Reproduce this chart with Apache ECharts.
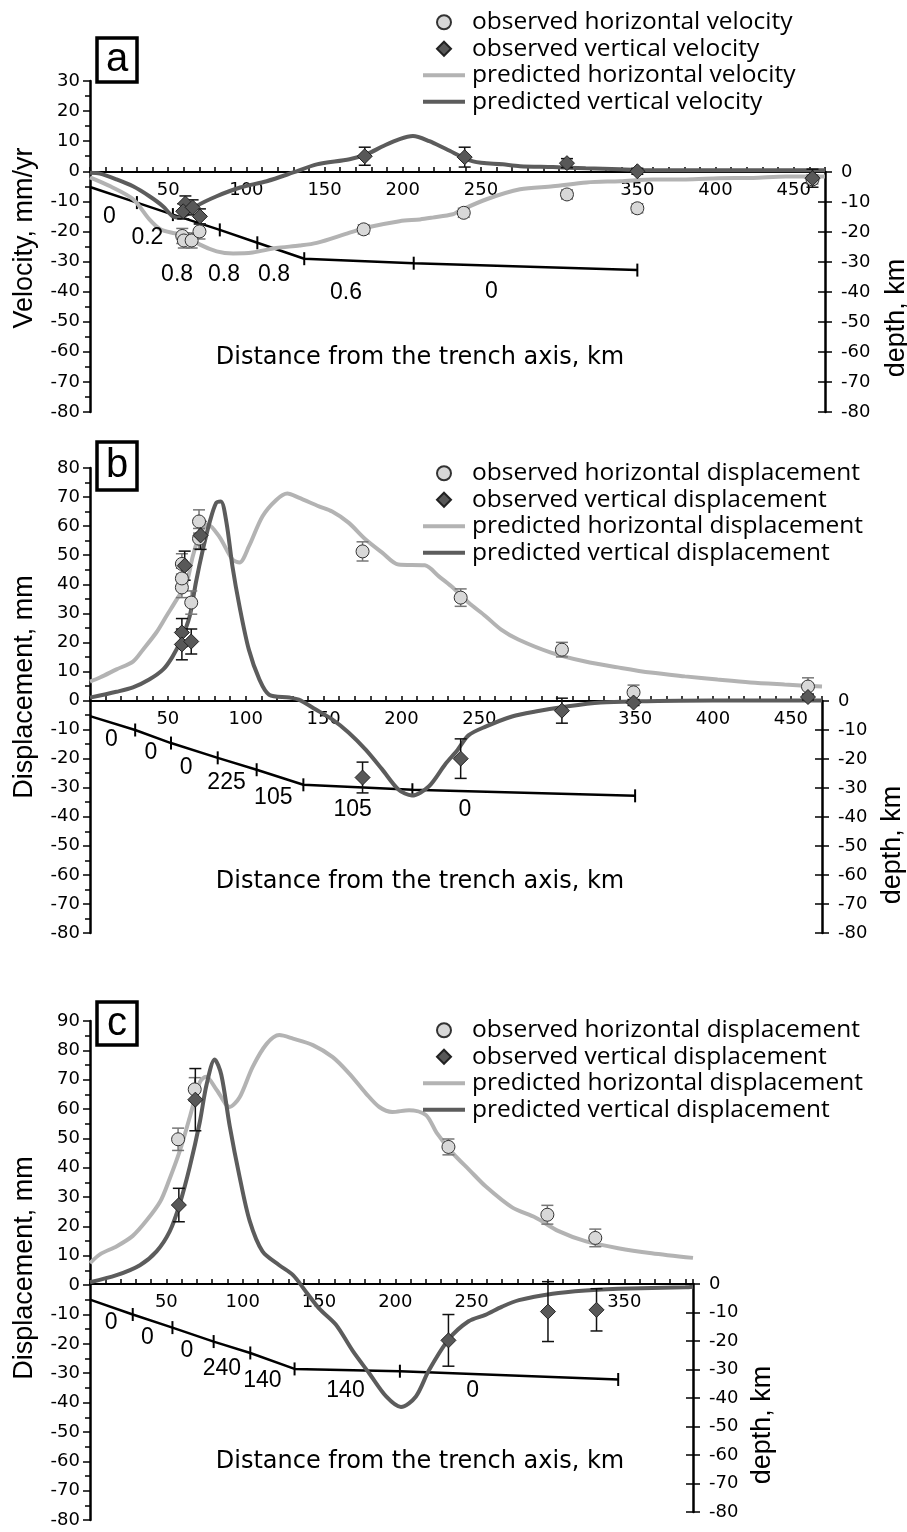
<!DOCTYPE html>
<html>
<head>
<meta charset="UTF-8">
<style>
  html, body { margin: 0; padding: 0; background: #fff; }
  #chart { width: 907px; height: 1532px; }
</style>
<script src="https://cdn.jsdelivr.net/npm/echarts/dist/echarts.min.js"></script>
</head>
<body>
<div id="chart"></div>
<script>
// ---- panel a : velocities ----
var aPredHx = [0, 13, 27.6, 38, 45, 53, 60, 70, 81, 91.5, 104, 119, 134, 145, 166, 177, 198, 211, 219, 232, 236, 253.6, 275, 296, 317.6, 339, 360, 381, 402, 424, 445, 470];
var aPredHy = [-2, -5, -9.3, -16, -19.3, -20.5, -21, -24.3, -26.6, -27.3, -27, -25.5, -24.7, -23.8, -20.4, -18.7, -16.6, -16, -15.4, -14.3, -13.2, -9.3, -6, -5, -3.7, -3.3, -2.7, -2.7, -2.3, -2.2, -1.7, -1.7];
var aPredVx = [0, 6.4, 17, 27.5, 38, 46.6, 53, 58, 68, 81, 96, 113, 130, 145, 166, 177, 187.6, 198, 206.5, 217, 228, 245, 264, 275, 296, 317, 339, 360, 400, 470];
var aPredVy = [-0.5, -0.8, -2.7, -5, -8.3, -11.6, -15, -15.5, -11.6, -8.3, -5.4, -3.3, -0.4, 2.3, 4, 5.7, 8.4, 10.7, 11.7, 10, 7.3, 3.3, 2.3, 1.7, 1.4, 1, 0.7, 0.3, 0.3, 0.3];
var aObsHx = [59, 60, 65, 70, 175, 239, 305, 350, 462];
var aObsHy = [-21.5, -23, -23, -20, -19.3, -13.8, -7.7, -12.3, -2.7];
var aObsHerr = [2.5, 2.5, 2.5, 2.5, 1.5, 1.5, 1.5, 1.5, 1.5];
var aObsVx = [61, 59.6, 65.6, 70.3, 175.7, 239.6, 305, 350, 462];
var aObsVy = [-10.7, -13.3, -12, -15, 5, 4.7, 2.7, 0, -2.3];
var aObsVerr = [2.5, 2.5, 2.5, 2.5, 3, 3.3, 1.5, 1, 3];
var aDepthX = [0, 30, 53, 83, 107, 137, 207, 350];
var aDepthY = [-5, -10.2, -14.2, -19.3, -23.6, -28.9, -30.4, -32.7];
var aRateX = [12.8, 37, 56, 86, 118, 164, 257];
var aRateY = [-15, -22, -34.3, -34.3, -34.3, -40.3, -40];
var aRateText = ['0', '0.2', '0.8', '0.8', '0.8', '0.6', '0'];

// ---- panel b : displacements ----
var bPredHx = [0, 6.4, 17, 27.6, 34, 42.6, 49, 55.6, 62, 66, 70, 75.6, 83, 91.5, 96, 102, 110.7, 119.6, 126.7, 134, 147, 155.5, 166, 177, 187.6, 198, 215, 224, 232, 243, 254, 264, 275, 296, 318, 339, 360, 382, 403, 424, 446, 470];
var bPredHy = [6.5, 7.9, 10.7, 13.4, 17.5, 23.4, 29, 34.7, 40.6, 49.6, 56.4, 60.6, 56.4, 48.5, 47.5, 53, 63.3, 69, 71.2, 69.8, 66.8, 65, 61.2, 55.4, 50.9, 46.8, 46.5, 42.7, 39.3, 33.7, 29, 24.4, 21, 16.5, 13.4, 11.4, 9.6, 8.3, 7.2, 6.2, 5.5, 4.8];
var bPredVx = [0, 17, 27.6, 38, 47, 53, 58.6, 64, 68, 72.5, 76.8, 81, 84, 87.6, 91.5, 96, 102, 108.8, 115, 128, 134, 145, 155.5, 166, 177, 187.6, 198, 206.7, 217.5, 228, 236, 243, 254, 271, 286, 307, 328, 350, 400, 470];
var bPredVy = [1, 3, 4.5, 7.2, 10.7, 15.1, 21, 29, 40.6, 52, 61.3, 68, 68.5, 61.3, 46, 32.4, 17.5, 7.2, 2, 1, 0.3, -3.1, -6.5, -11, -16.9, -23.7, -30.6, -32.7, -29.6, -22, -17, -12, -9, -5.5, -3.8, -2, -0.7, -0.3, 0, 0];
var bObsHx = [59, 59, 59, 65, 70, 70, 175, 238, 303, 349, 461];
var bObsHy = [38.9, 42, 47, 33.7, 61.6, 55.7, 51.3, 35.4, 17.5, 2.8, 4.8];
var bObsHerr = [3.5, 3.5, 3.5, 4, 4, 3.5, 3.3, 3, 2.5, 2.5, 3];
var bObsVx = [60.8, 59, 59, 65, 71, 175, 238, 303, 349, 461];
var bObsVy = [46.4, 23.4, 19.3, 20.3, 56.8, -26.5, -20, -3.5, -0.7, 1.2];
var bObsVerr = [5, 4.8, 5.3, 4.3, 4.8, 5.3, 6.8, 4.3, 1, 1];
var bDepthX = [0, 29, 52, 82, 107, 137, 207, 350];
var bDepthY = [-5.2, -10, -14.5, -19.6, -23.7, -28.9, -30.6, -32.7];
var bRateX = [14, 39.5, 62, 88, 118, 169, 241];
var bRateY = [-13.4, -18, -23, -28.2, -33.4, -37.5, -37.5];
var bRateText = ['0', '0', '0', '225', '105', '105', '0'];

// ---- panel c : displacements ----
var cPredHx = [0, 6.5, 17.6, 28, 37, 46, 52, 59, 65.4, 72, 76, 83, 91.5, 98, 106.5, 115.7, 124, 133, 146, 159, 170, 181, 189.5, 198, 209, 220, 227, 237.6, 248.4, 259.5, 276.5, 292, 307, 325, 346, 368, 395];
var cPredHy = [7.5, 10.5, 13.3, 16.8, 22, 28.5, 36, 46, 57.3, 69.2, 71, 66.5, 60.7, 64, 74.3, 82.2, 85.2, 84, 81.8, 77.7, 72, 65.2, 60.7, 59, 59.6, 58, 52, 45, 39.3, 33.5, 26.5, 23, 18.4, 14.9, 12.6, 10.9, 9.3];
var cPredVx = [0, 17.4, 32.7, 43.6, 52.3, 58.8, 65.4, 71.9, 76.3, 81.7, 86, 91.5, 98, 104.6, 113, 124, 133, 141.6, 150, 161, 172, 183, 194, 203.7, 213.5, 222, 235, 248, 259, 270, 281, 303, 324.6, 346, 390, 395];
var cPredVy = [1, 3.4, 6.8, 11.5, 18.4, 27.7, 40.4, 55.5, 68.2, 76.9, 71.7, 54.3, 36.9, 21.9, 11.5, 6.8, 3.4, -2.3, -7.9, -13.4, -22.3, -30.1, -37.9, -41.5, -37.9, -29, -18.4, -12.3, -10.1, -7.3, -5.1, -2.9, -1.8, -1.2, -0.7, -0.5];
var cObsHx = [57.7, 68.6, 234.8, 299.6, 331];
var cObsHy = [49.7, 66.7, 47.1, 24, 16.1];
var cObsHerr = [3.8, 4, 2.7, 3.2, 3];
var cObsVx = [58.2, 69, 234.8, 300, 331.8];
var cObsVy = [27.3, 63.2, -18.8, -9, -8.4];
var cObsVerr = [5.7, 10.6, 8.8, 10.2, 7.2];
var cDepthX = [0, 28, 54, 81, 105, 134, 203, 346];
var cDepthY = [-5.5, -10.7, -15.3, -20.2, -24.2, -29.8, -30.6, -33.5];
var cRateX = [14.2, 38, 63.8, 86.7, 113.3, 167.7, 251];
var cRateY = [-13.8, -19, -23.7, -30, -34, -37.6, -37.6];
var cRateText = ['0', '0', '0', '240', '140', '140', '0'];

var velNames = ['observed horizontal velocity', 'observed vertical velocity', 'predicted horizontal velocity', 'predicted vertical velocity'];
var dispNames = ['observed horizontal displacement', 'observed vertical displacement', 'predicted horizontal displacement', 'predicted vertical displacement'];

var LIGHT = '#b3b3b3', DARK = '#5c5c5c';
var tickFont = 'DejaVu Sans';
var ICON_DIAMOND = 'path://M7,0L14,7L7,14L0,7Z';
var ICON_BAR = 'path://M0,0L42,0L42,4L0,4Z';

function zip(xs, ys) { return xs.map(function (x, i) { return [x, ys[i]]; }); }
function errData(xs, ys, es) { return xs.map(function (x, i) { return [x, ys[i] - es[i], ys[i] + es[i]]; }); }

function errRender(color) {
  return function (params, api) {
    var x = api.value(0), lo = api.value(1), hi = api.value(2);
    var t = api.coord([x, hi]), b = api.coord([x, lo]);
    var st = { stroke: color, lineWidth: 1.5 };
    return { type: 'group', children: [
      { type: 'line', shape: { x1: t[0], y1: t[1], x2: b[0], y2: b[1] }, style: st },
      { type: 'line', shape: { x1: t[0] - 6, y1: t[1], x2: t[0] + 6, y2: t[1] }, style: st },
      { type: 'line', shape: { x1: b[0] - 6, y1: b[1], x2: b[0] + 6, y2: b[1] }, style: st }
    ] };
  };
}

var grid = [], xAxis = [], yAxis = [], series = [], legend = [], graphic = [];

function addPanel(p) {
  var gi = grid.length, xi = xAxis.length, yi = yAxis.length;
  grid.push({ left: 90, top: p.top, width: p.width, height: p.height, outerBoundsMode: 'none', containLabel: false });
  grid.push({ left: 90, top: p.dTop, width: p.width, height: p.dHeight, outerBoundsMode: 'none', containLabel: false });
  // data x axis (hidden), the visible distance axis sits on top of the depth grid = zero line
  xAxis.push({ gridIndex: gi, type: 'value', min: 0, max: p.xMax, show: false });
  xAxis.push({
    gridIndex: gi + 1, type: 'value', min: 0, max: p.xMax, interval: 50, position: 'top',
    axisLine: { show: true, onZero: false, lineStyle: { color: '#000', width: 2 } },
    axisTick: { show: true, inside: false, length: 5, lineStyle: { color: '#000', width: 1.5 } },
    minorTick: { show: true, splitNumber: 5, length: 5, lineStyle: { color: '#000', width: 1.5 } },
    axisLabel: { inside: true, margin: 9, color: '#000', fontFamily: tickFont, fontSize: 18, showMinLabel: true, showMaxLabel: true,
      formatter: function (v) { return (v % 50 === 0 && v !== 0 && v !== 300) ? String(v) : ''; } },
    splitLine: { show: false }, minorSplitLine: { show: false }
  });
  yAxis.push({
    gridIndex: gi, type: 'value', min: p.yMin, max: p.yMax, interval: 10, position: 'left',
    axisLine: { show: true, onZero: false, lineStyle: { color: '#000', width: 2.5 } },
    axisTick: { show: true, length: 7, lineStyle: { color: '#000', width: 1.5 } },
    minorTick: { show: true, splitNumber: 2, length: 5, lineStyle: { color: '#000', width: 1.5 } },
    axisLabel: { margin: 10, color: '#000', fontFamily: tickFont, fontSize: 18, showMinLabel: true, showMaxLabel: true },
    splitLine: { show: false }, minorSplitLine: { show: false }
  });
  yAxis.push({
    gridIndex: gi + 1, type: 'value', min: -80, max: 0, interval: 10, position: 'right',
    axisLine: { show: true, onZero: false, lineStyle: { color: '#000', width: 2.5 } },
    axisTick: { show: true, length: 7, lineStyle: { color: '#000', width: 1.5 } },
    axisLabel: { margin: 16, color: '#000', fontFamily: tickFont, fontSize: 18, showMinLabel: true, showMaxLabel: true },
    splitLine: { show: false }
  });
  yAxis.push({
    gridIndex: gi + 1, type: 'value', min: -80, max: 0, interval: 10, position: 'right',
    axisLine: { show: false, onZero: false },
    axisTick: { show: true, inside: true, length: 7, lineStyle: { color: '#000', width: 1.5 } },
    axisLabel: { show: false }, splitLine: { show: false }
  });

  var n = p.names;
  series.push({ name: n[2], type: 'line', xAxisIndex: xi, yAxisIndex: yi, data: zip(p.predHx, p.predHy),
    symbol: 'none', smooth: 0.3, lineStyle: { color: LIGHT, width: 4 }, itemStyle: { color: LIGHT }, z: 3 });
  series.push({ name: n[3], type: 'line', xAxisIndex: xi, yAxisIndex: yi, data: zip(p.predVx, p.predVy),
    symbol: 'none', smooth: 0.3, lineStyle: { color: DARK, width: 4 }, itemStyle: { color: DARK }, z: 4 });
  series.push({ name: 'errH' + gi, type: 'custom', xAxisIndex: xi, yAxisIndex: yi, data: errData(p.obsHx, p.obsHy, p.obsHerr),
    encode: { x: 0, y: [1, 2] }, renderItem: errRender('#777'), z: 5 });
  series.push({ name: 'errV' + gi, type: 'custom', xAxisIndex: xi, yAxisIndex: yi, data: errData(p.obsVx, p.obsVy, p.obsVerr),
    encode: { x: 0, y: [1, 2] }, renderItem: errRender('#111'), z: 5 });
  series.push({ name: n[0], type: 'scatter', xAxisIndex: xi, yAxisIndex: yi, data: zip(p.obsHx, p.obsHy),
    symbol: 'circle', symbolSize: 13, itemStyle: { color: '#d8d8d8', borderColor: '#333', borderWidth: 1, opacity: 1 }, z: 6 });
  series.push({ name: n[1], type: 'scatter', xAxisIndex: xi, yAxisIndex: yi, data: zip(p.obsVx, p.obsVy),
    symbol: 'diamond', symbolSize: 15, itemStyle: { color: '#585858', borderColor: '#222', borderWidth: 1, opacity: 1 }, z: 7 });
  var depthData = zip(p.depthX, p.depthY).map(function (d, i) {
    return i === 0 ? { value: d, symbol: 'none' } : { value: d };
  });
  series.push({ name: 'depth' + gi, type: 'line', xAxisIndex: xi + 1, yAxisIndex: yi + 1, data: depthData,
    symbol: 'rect', symbolSize: [2, 13], showAllSymbol: true, itemStyle: { color: '#000' },
    lineStyle: { color: '#000', width: 2.5 }, z: 2 });
  series.push({ name: 'rate' + gi, type: 'scatter', xAxisIndex: xi + 1, yAxisIndex: yi + 1,
    data: p.rateX.map(function (x, i) { return [x, p.rateY[i], p.rateText[i]]; }),
    symbolSize: 1, itemStyle: { color: 'rgba(0,0,0,0)' },
    label: { show: true, position: [0, 0], align: 'center', verticalAlign: 'middle', formatter: function (q) { return q.value[2]; },
      color: '#000', opacity: 1, textBorderWidth: 0, fontFamily: 'Liberation Sans', fontSize: 23 }, z: 8 });

  legend.push({
    data: [
      { name: n[0], icon: 'circle' },
      { name: n[1], icon: ICON_DIAMOND },
      { name: n[2], icon: ICON_BAR },
      { name: n[3], icon: ICON_BAR }
    ],
    orient: 'vertical', left: 423, top: p.legTop, padding: 0, itemWidth: 42, itemHeight: 14, itemGap: 0,
    selectedMode: false, symbolKeepAspect: true,
    textStyle: { color: '#000', fontFamily: 'Open Sans', fontSize: 24.5, lineHeight: 26.5, padding: [0, 0, 0, 2] }
  });

  graphic.push({ type: 'rect', shape: { x: 97, y: p.boxY, width: 40, height: p.boxH }, style: { fill: '#fff', stroke: '#000', lineWidth: 3.5 } });
  graphic.push({ type: 'text', x: 117, y: p.boxY + p.boxH / 2, style: { text: p.letter, font: '40px "Liberation Sans"', fill: '#000',
    align: 'center', verticalAlign: 'middle', textAlign: 'center', textVerticalAlign: 'middle' } });
  graphic.push({ type: 'text', x: 25, y: p.yTitleY, rotation: Math.PI / 2, style: { text: p.yTitle, font: '27px "Liberation Sans"', fill: '#000',
    align: 'center', verticalAlign: 'middle', textAlign: 'center', textVerticalAlign: 'middle' } });
  graphic.push({ type: 'text', x: 420, y: p.xTitleY, style: { text: 'Distance from the trench axis, km', font: '24px "DejaVu Sans"', fill: '#000',
    align: 'center', verticalAlign: 'middle', textAlign: 'center', textVerticalAlign: 'middle' } });
  graphic.push({ type: 'text', x: p.dTitleX, y: p.dTitleY, rotation: Math.PI / 2, style: { text: 'depth, km', font: '27px "Liberation Sans"', fill: '#000',
    align: 'center', verticalAlign: 'middle', textAlign: 'center', textVerticalAlign: 'middle' } });
}

addPanel({ top: 81, height: 331, width: 735, dTop: 172, dHeight: 240, xMax: 470, yMin: -80, yMax: 30,
  predHx: aPredHx, predHy: aPredHy, predVx: aPredVx, predVy: aPredVy,
  obsHx: aObsHx, obsHy: aObsHy, obsHerr: aObsHerr, obsVx: aObsVx, obsVy: aObsVy, obsVerr: aObsVerr,
  depthX: aDepthX, depthY: aDepthY, rateX: aRateX, rateY: aRateY, rateText: aRateText,
  names: velNames, legTop: 9, letter: 'a', boxY: 38, boxH: 44,
  yTitle: 'Velocity, mm/yr', yTitleY: 238, xTitleY: 358, dTitleX: 897, dTitleY: 318 });
addPanel({ top: 468, height: 465, width: 732, dTop: 701, dHeight: 232, xMax: 470, yMin: -80, yMax: 80,
  predHx: bPredHx, predHy: bPredHy, predVx: bPredVx, predVy: bPredVy,
  obsHx: bObsHx, obsHy: bObsHy, obsHerr: bObsHerr, obsVx: bObsVx, obsVy: bObsVy, obsVerr: bObsVerr,
  depthX: bDepthX, depthY: bDepthY, rateX: bRateX, rateY: bRateY, rateText: bRateText,
  names: dispNames, legTop: 460, letter: 'b', boxY: 442, boxH: 48,
  yTitle: 'Displacement, mm', yTitleY: 687, xTitleY: 882, dTitleX: 893, dTitleY: 845 });
addPanel({ top: 1021, height: 499, width: 603, dTop: 1284, dHeight: 228, xMax: 395, yMin: -80, yMax: 90,
  predHx: cPredHx, predHy: cPredHy, predVx: cPredVx, predVy: cPredVy,
  obsHx: cObsHx, obsHy: cObsHy, obsHerr: cObsHerr, obsVx: cObsVx, obsVy: cObsVy, obsVerr: cObsVerr,
  depthX: cDepthX, depthY: cDepthY, rateX: cRateX, rateY: cRateY, rateText: cRateText,
  names: dispNames, legTop: 1017, letter: 'c', boxY: 1002, boxH: 43,
  yTitle: 'Displacement, mm', yTitleY: 1268, xTitleY: 1462, dTitleX: 763, dTitleY: 1425 });

var chart = echarts.init(document.getElementById('chart'), null, { renderer: 'canvas' });
chart.setOption({
  backgroundColor: '#fff',
  animation: false,
  grid: grid, xAxis: xAxis, yAxis: yAxis, series: series, legend: legend,
  graphic: { elements: graphic }
});
</script>
</body>
</html>
